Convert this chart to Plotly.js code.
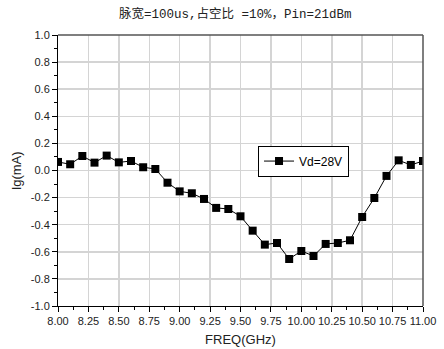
<!DOCTYPE html>
<html>
<head>
<meta charset="utf-8">
<script src="https://cdn.plot.ly/plotly-3.0.1.min.js"></script>
<style>html,body{margin:0;padding:0;background:#fff;}#chart{width:444px;height:349px;}</style>
</head>
<body>
<div id="chart"></div>
<script>
const freq = [8.0,8.1,8.2,8.3,8.4,8.5,8.6,8.7,8.8,8.9,9.0,9.1,9.2,9.3,9.4,9.5,9.6,9.7,9.8,9.9,10.0,10.1,10.2,10.3,10.4,10.5,10.6,10.7,10.8,10.9,11.0];
const lgI = [0.063,0.046,0.107,0.058,0.11,0.06,0.07,0.024,0.011,-0.09,-0.154,-0.168,-0.21,-0.276,-0.284,-0.338,-0.444,-0.547,-0.535,-0.653,-0.594,-0.631,-0.542,-0.535,-0.515,-0.343,-0.203,-0.04,0.075,0.041,0.07];
const seriesName = 'Vd=28V';
const xTickVals = [8.0,8.25,8.5,8.75,9.0,9.25,9.5,9.75,10.0,10.25,10.5,10.75,11.0];
const xTickText = ['8.00','8.25','8.50','8.75','9.00','9.25','9.50','9.75','10.00','10.25','10.50','10.75','11.00'];
const yTickVals = [-1.0,-0.8,-0.6,-0.4,-0.2,0.0,0.2,0.4,0.6,0.8,1.0];
const yTickText = ['-1.0','-0.8','-0.6','-0.4','-0.2','0.0','0.2','0.4','0.6','0.8','1.0'];
const titleText = '脉宽=100us,占空比 =10%，Pin=21dBm';

const trace = {
  x: freq, y: lgI, name: seriesName, type: 'scatter', mode: 'lines+markers',
  line: {color: '#000', width: 1},
  marker: {symbol: 'square', size: 8, color: '#000'}
};
const layout = {
  width: 444, height: 349,
  margin: {l: 58, r: 21, t: 35, b: 43, pad: 0},
  paper_bgcolor: '#fff', plot_bgcolor: '#fff',
  showlegend: true,
  title: {text: titleText, x: 0.53, xanchor: 'center', y: 0.96, yanchor: 'middle',
          font: {family: 'Liberation Mono, Noto Sans CJK SC', size: 12.5, color: '#222'}},
  xaxis: {
    range: [8.0, 11.0], tickvals: xTickVals, ticktext: xTickText,
    showline: true, linecolor: '#000', linewidth: 1,
    ticks: 'outside', ticklen: 5, tickcolor: '#000', tickwidth: 1,
    showgrid: true, gridcolor: '#d4d4d4', gridwidth: 1.5, zeroline: false,
    minor: {ticks: 'outside', ticklen: 3, tickcolor: '#000', dtick: 0.125, tick0: 8.0, showgrid: false},
    tickfont: {family: 'Arial, Liberation Sans', size: 11, color: '#222'},
    title: {text: 'FREQ(GHz)', font: {family: 'Arial, Liberation Sans', size: 13, color: '#222'}, standoff: 8}
  },
  yaxis: {
    range: [-1.0, 1.0], tickvals: yTickVals, ticktext: yTickText,
    showline: true, linecolor: '#000', linewidth: 1,
    ticks: 'outside', ticklen: 5, tickcolor: '#000', tickwidth: 1,
    showgrid: true, gridcolor: '#d4d4d4', gridwidth: 1.5, zeroline: false,
    minor: {ticks: 'outside', ticklen: 3, tickcolor: '#000', dtick: 0.1, tick0: 0, showgrid: false},
    tickfont: {family: 'Arial, Liberation Sans', size: 11, color: '#222'},
    title: {text: 'lg(mA)', font: {family: 'Arial, Liberation Sans', size: 13, color: '#222'}, standoff: 6}
  },
  legend: {
    x: 0.548, y: 0.592, xanchor: 'left', yanchor: 'top',
    bgcolor: '#fff', bordercolor: '#000', borderwidth: 1,
    font: {family: 'Arial, Liberation Sans', size: 12, color: '#000'},
    itemwidth: 30, tracegroupgap: 0
  },
  shapes: [
    {type: 'line', xref: 'paper', yref: 'paper', x0: 0, x1: 1, y0: 1, y1: 1, line: {color: '#555', width: 1.5}},
    {type: 'line', xref: 'paper', yref: 'paper', x0: 1, x1: 1, y0: 0, y1: 1, line: {color: '#555', width: 1.5}}
  ]
};
Plotly.newPlot('chart', [trace], layout, {displayModeBar: false, staticPlot: true});
</script>
</body>
</html>
